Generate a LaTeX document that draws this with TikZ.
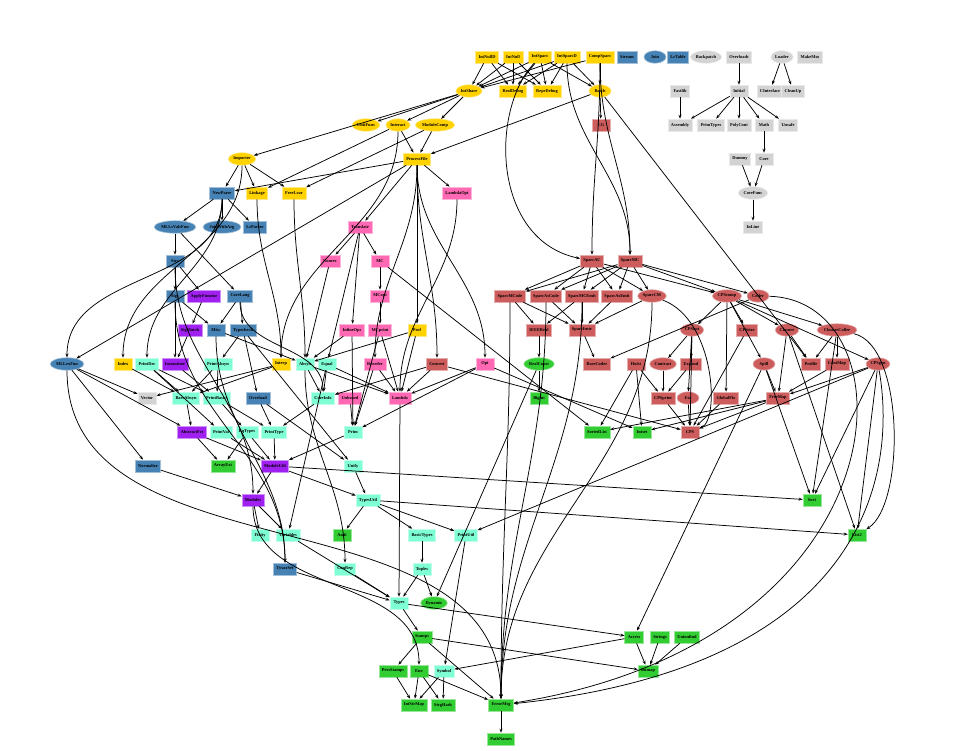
\documentclass[tikz,border=0pt]{standalone}
\usepackage{fontspec}
\setmainfont{Liberation Serif}
\usetikzlibrary{shapes.geometric,arrows.meta}
\definecolor{cgold}{RGB}{255,210,0}
\definecolor{csteel}{RGB}{70,130,180}
\definecolor{cred}{RGB}{205,92,92}
\definecolor{cpink}{RGB}{255,105,180}
\definecolor{caqua}{RGB}{127,255,212}
\definecolor{cgreen}{RGB}{50,205,50}
\definecolor{cpurple}{RGB}{160,32,240}
\definecolor{cgray}{RGB}{211,211,211}
\tikzset{
  base/.style={font=\fontsize{4.4}{5}\selectfont\bfseries, text=black, inner ysep=0pt, line width=0.6pt},
  bx/.style={base, rectangle, fill=#1, draw=#1!50!white, minimum width=18pt, minimum height=12pt, inner xsep=3pt},
  el/.style={base, ellipse, fill=#1, draw=#1!50!white, minimum width=22pt, minimum height=12.5pt, inner xsep=1pt},
  e/.style={-{Stealth[length=4pt,width=3pt]}, line width=0.75pt, black},
  cv/.style={e, out=-90, in=90}
}
\begin{document}
\begin{tikzpicture}[x=1pt,y=-1pt]
\useasboundingbox (0,0) rectangle (959,751);
% ---------- nodes ----------
\foreach \n/\x/\y in {IntNullD/487/57, IntNull/513/57, IntSparc/540/57, IntSparcD/567/57, CompSparc/600/57,
  RealDebug/513/91, ReprDebug/547/91, ProcessFile/417/159, Linkage/257/193, FreeLvar/294/193,
  Prof/417/330, Index/123/364, Interp/281/364}
  \node[bx=cgold] (\n) at (\x,\y) {\n};
\foreach \n/\x/\y in {IntShare/469/91, Batch/600/91, UnitFuns/366/125, Interact/398/125, ModuleComp/435/125, Importer/242/159}
  \node[el=cgold] (\n) at (\x,\y) {\n};
\foreach \n/\x/\y in {Stream/627/57, LrTable/678/57, NewParse/222/193, LrParser/255/227, Strs/175/261, Sigs/175/296,
  CoreLang/240/296, Misc/216/330, Typecheck/243/330, Overload/258/398, Normalize/148/466, TyvarSet/285/569}
  \node[bx=csteel] (\n) at (\x,\y) {\n};
\foreach \n/\x/\y in {Join/655/57, MLLrValsFun/175/227, JoinWithArg/222/227, MLLexFun/67/364}
  \node[el=csteel] (\n) at (\x,\y) {\n};
\foreach \n/\x/\y in {Overloads/739/57, MakeMos/810/57, Fastlib/680/91, Initial/739/91, CInterface/770/91, CleanUp/793/91,
  Assembly/680/125, PrimTypes/711/125, PolyCont/739/125, Math/764/125, Unsafe/788/125, Dummy/740/159, Core/764/159,
  InLine/753/227, Vector/147/398}
  \node[bx=cgray] (\n) at (\x,\y) {\n};
\foreach \n/\x/\y in {Backpatch/706/57, Loader/782/57, CoreFunc/753/193}
  \node[el=cgray] (\n) at (\x,\y) {\n};
\foreach \n/\x/\y in {CG/601/125, SparcAC/592/261, SparcMC/630/261, SparcMCode/510/296, SparcAsCode/546/296,
  SparcMCEmit/582/296, SparcAsEmit/617/296, IEEEReal/539/330, SparcInstr/582/330, CPSsize/747/330, Convert/437/364,
  BaseCoder/597/364, Hoist/636/364, Expand/691/364, Profile/811/364, ContMap/837/364, CPSprint/663/398,
  GlobalFix/726/398, FreeMap/778/398, CPS/690/432}
  \node[bx=cred] (\n) at (\x,\y) {\n};
\foreach \n/\x/\y in {SparcCM/652/296, CPScomp/727/296, Coder/758/296, CPSopt/692/330, Closure/787/330,
  ClosureCallee/837/330, Contract/663/364, Spill/764/364, CPSgen/878/364, Eta/688/398}
  \node[el=cred] (\n) at (\x,\y) {\n};
\foreach \n/\x/\y in {LambdaOpt/457/193, Translate/360/227, Nonrec/330/261, MC/380/261, MCopt/380/296,
  InlineOps/352/330, MCprint/380/330, Reorder/375/364, Opt/485/364, Unboxed/350/398, Lambda/400/398}
  \node[bx=cpink] (\n) at (\x,\y) {\n};
\foreach \n/\x/\y in {PrintDec/147/364, PrintAbsyn/218/364, Absyn/305/364, Equal/327/364, BareAbsyn/186/398,
  PrintBasics/217/398, CoreInfo/323/398, PrintVal/221/432, EqTypes/247/432, PrintType/274/432, Prim/353/432,
  Unify/353/466, TypesUtil/368/500, Fixity/260/535, Variables/288/535, BasicTypes/422/535, PrintUtil/466/535,
  ConRep/345/569, Tuples/422/569, Types/399/603, Symbol/444/671}
  \node[bx=caqua] (\n) at (\x,\y) {\n};
\foreach \n/\x/\y in {ApplyFunctor/204/296, SigMatch/190/330, Instantiate/175/364, AbstractFct/192/432,
  ModuleUtil/275/466, Modules/253/500}
  \node[bx=cpurple] (\n) at (\x,\y) {\n};
\foreach \n/\x/\y in {Bigint/539/398, SortedList/597/432, Intset/642/432, ArrayExt/223/466, Sort/812/500,
  Ascii/342/535, List2/857/535, Stamps/422/637, Access/634/637, Strings/660/637, Unionfind/687/637,
  PersStamps/393/671, Env/419/671, Intmap/648/671, IntStrMap/414/705, StrgHash/443/705, ErrorMsg/501/705,
  PathNames/501/739}
  \node[bx=cgreen] (\n) at (\x,\y) {\n};
\foreach \n/\x/\y in {RealConst/539/364, Dynamic/434/603}
  \node[el=cgreen] (\n) at (\x,\y) {\n};
% ---------- straight edges ----------
\foreach \a/\b in {IntNullD/IntShare, IntNullD/RealDebug, IntNullD/ReprDebug,
  IntNull/IntShare, IntNull/RealDebug, IntNull/ReprDebug,
  IntSparc/IntShare, IntSparc/RealDebug, IntSparc/ReprDebug, IntSparc/Batch,
  IntSparcD/IntShare, IntSparcD/RealDebug, IntSparcD/ReprDebug, IntSparcD/Batch,
  CompSparc/Batch, CompSparc/IntShare,
  Overloads/Initial, Loader/CInterface, Loader/CleanUp,
  IntShare/Importer, IntShare/UnitFuns, IntShare/Interact, IntShare/ModuleComp,
  Batch/CG, Batch/ProcessFile, Batch/Profile,
  Fastlib/Assembly, Initial/Assembly, Initial/PrimTypes, Initial/PolyCont, Initial/Math, Initial/Unsafe,
  Interact/ProcessFile, Interact/Linkage, ModuleComp/ProcessFile, ModuleComp/FreeLvar,
  Math/Core, Dummy/CoreFunc, Core/CoreFunc, CoreFunc/InLine,
  Importer/NewParse, Importer/Linkage, Importer/FreeLvar,
  ProcessFile/NewParse, ProcessFile/Translate, ProcessFile/LambdaOpt, ProcessFile/MLLexFun, ProcessFile/Prof,
  NewParse/MLLrValsFun, NewParse/JoinWithArg, NewParse/LrParser,
  MLLrValsFun/Strs, MLLrValsFun/CoreLang,
  Translate/Nonrec, Translate/MC, Translate/InlineOps, Translate/Equal,
  Strs/Sigs, Strs/ApplyFunctor, Nonrec/Absyn, MC/MCopt, MC/SortedList,
  SparcAC/SparcMCode, SparcAC/SparcAsCode, SparcAC/SparcMCEmit, SparcAC/SparcAsEmit, SparcAC/SparcCM, SparcAC/CPScomp,
  SparcMC/SparcMCode, SparcMC/SparcAsCode, SparcMC/SparcMCEmit, SparcMC/SparcAsEmit, SparcMC/SparcCM, SparcMC/CPScomp, SparcMC/Coder,
  Sigs/Instantiate, Sigs/Misc, ApplyFunctor/SigMatch, CoreLang/Misc, CoreLang/Typecheck,
  MCopt/MCprint,
  SparcMCode/IEEEReal, SparcMCode/SparcInstr, SparcAsCode/SparcInstr, SparcMCEmit/IEEEReal, SparcMCEmit/SparcInstr,
  SparcAsEmit/SparcInstr, SparcCM/SparcInstr,
  CPScomp/CPSopt, CPScomp/CPSsize, CPScomp/Closure, CPScomp/ClosureCallee, CPScomp/Spill, CPScomp/GlobalFix, CPScomp/CPSgen,
  Coder/BaseCoder,
  SigMatch/Instantiate, Misc/Absyn, Typecheck/PrintAbsyn, Typecheck/Overload, Typecheck/Unify,
  InlineOps/Absyn, InlineOps/Prim, MCprint/Lambda, MCprint/Prim, Prof/Absyn, Prof/Lambda,
  IEEEReal/RealConst, SparcInstr/BaseCoder,
  CPSopt/Contract, CPSopt/Expand, CPSopt/Eta, CPSopt/CPS,
  CPSsize/CPS, Closure/Profile, Closure/FreeMap, Closure/List2, ClosureCallee/Profile, ClosureCallee/ContMap, ClosureCallee/Sort,
  MLLexFun/Vector, MLLexFun/Normalize, MLLexFun/AbstractFct,
  Index/BareAbsyn, PrintDec/BareAbsyn, PrintDec/PrintBasics, PrintDec/PrintVal,
  Instantiate/PrintBasics, PrintAbsyn/BareAbsyn, PrintAbsyn/PrintBasics,
  Interp/Vector, Interp/BareAbsyn, Absyn/CoreInfo, Absyn/Lambda, Equal/CoreInfo, Equal/Lambda, Equal/Variables,
  Reorder/Lambda, Reorder/Prim, Convert/Lambda, Convert/CoreInfo, Convert/CPS, Opt/Lambda, Opt/Prim, Opt/Intset,
  RealConst/Bigint, RealConst/Dynamic, Hoist/SortedList, Hoist/Intset, Hoist/CPSprint, Contract/CPSprint, Expand/CPSprint,
  Spill/FreeMap, Spill/Sort, Spill/Access, ContMap/FreeMap, CPSgen/FreeMap, CPSgen/Sort, CPSgen/List2, CPSgen/PrintUtil,
  BareAbsyn/AbstractFct, PrintBasics/EqTypes, PrintBasics/PrintType, Overload/PrintType, Overload/Unify, CoreInfo/PrintType, Unboxed/Prim,
  Lambda/Types, CPSprint/CPS, Eta/CPS, GlobalFix/CPS, FreeMap/CPS, FreeMap/SortedList, FreeMap/Intset,
  AbstractFct/ArrayExt, AbstractFct/ModuleUtil, PrintVal/ModuleUtil, EqTypes/ArrayExt, EqTypes/ModuleUtil, PrintType/ModuleUtil, Prim/ModuleUtil,
  Normalize/Modules, ModuleUtil/Modules, ModuleUtil/TypesUtil, ModuleUtil/Sort, Unify/TypesUtil,
  Modules/Fixity, Modules/Variables, TypesUtil/Ascii, TypesUtil/BasicTypes, TypesUtil/PrintUtil, TypesUtil/List2,
  Variables/Types, BasicTypes/Tuples, PrintUtil/Symbol, TyvarSet/Types, ConRep/Types, Tuples/Types, Tuples/Dynamic,
  Types/Stamps, Types/Access, Stamps/PersStamps, Stamps/Intmap, Stamps/ErrorMsg, Access/Intmap, Access/Symbol,
  Strings/Intmap, Unionfind/Intmap,
  PersStamps/IntStrMap, Env/IntStrMap, Env/StrgHash, Env/ErrorMsg, Symbol/IntStrMap, Symbol/StrgHash, ErrorMsg/PathNames}
  \draw[e] (\a) -- (\b);
% ---------- curved edges ----------
\foreach \a/\b in {IntSparcD/SparcMC, CompSparc/SparcAC, CompSparc/SparcMC,
  Interact/Interp, Importer/Index, NewParse/MLLexFun, NewParse/PrintDec,
  Linkage/Interp, FreeLvar/Absyn, LambdaOpt/Lambda, ProcessFile/Convert, ProcessFile/Opt, ProcessFile/Reorder,
  SparcMCode/ErrorMsg, SparcAsCode/ErrorMsg, SparcMCEmit/ErrorMsg, SparcCM/ErrorMsg,
  CoreLang/CoreInfo, Sigs/TyvarSet, Misc/TyvarSet, Strs/Modules,
  MLLexFun/ErrorMsg, Modules/Env, Absyn/ConRep}
  \draw[cv] (\a) to (\b);
\draw[e] (IntSparc) .. controls (490,110) and (492,240) .. (SparcAC);
\draw[e] (SparcCM) .. controls (715,320) and (720,420) .. (CPS);
\draw[e] (ClosureCallee) .. controls (905,345) and (905,505) .. (List2);
\draw[e] (Coder) .. controls (915,300) and (910,640) .. (ErrorMsg);
\draw[e] (CPSgen) .. controls (895,460) and (880,665) .. (ErrorMsg);
\end{tikzpicture}
\end{document}
